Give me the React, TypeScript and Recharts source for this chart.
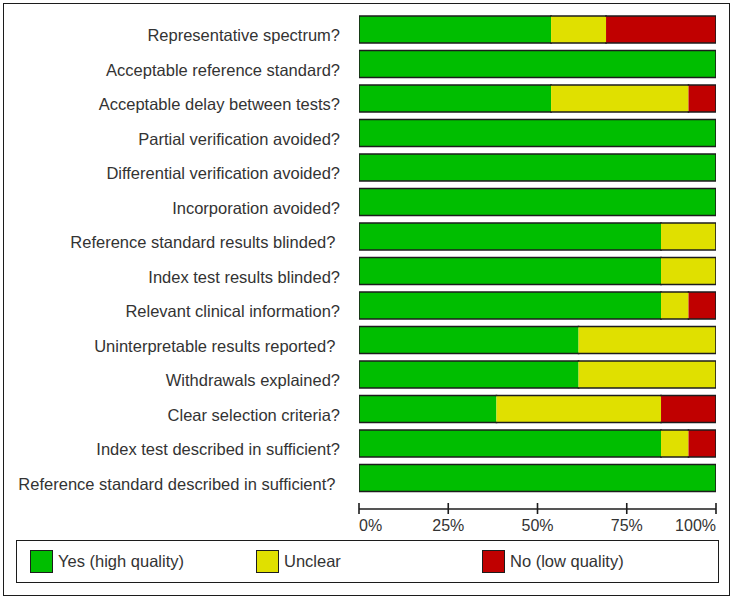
import React from 'react';
import { BarChart, Bar, XAxis, YAxis, Legend } from 'recharts';

const categories = [
  'Representative spectrum?',
  'Acceptable reference standard?',
  'Acceptable delay between tests?',
  'Partial verification avoided?',
  'Differential verification avoided?',
  'Incorporation avoided?',
  'Reference standard results blinded?\u00a0',
  'Index test results blinded?',
  'Relevant clinical information?',
  'Uninterpretable results reported?\u00a0',
  'Withdrawals explained?',
  'Clear selection criteria?',
  'Index test described in sufficient?',
  'Reference standard described in sufficient?\u00a0',
];
const yesValues = [53.8, 100, 53.8, 100, 100, 100, 84.6, 84.6, 84.6, 61.5, 61.5, 38.5, 84.6, 100];
const unclearValues = [15.4, 0, 38.5, 0, 0, 0, 15.4, 15.4, 7.7, 38.5, 38.5, 46.1, 7.7, 0];
const noValues = [30.8, 0, 7.7, 0, 0, 0, 0, 0, 7.7, 0, 0, 15.4, 7.7, 0];
const xTicks = [0, 25, 50, 75, 100];
const xTickLabels = ['0%', '25%', '50%', '75%', '100%'];
const seriesKeys = ['yes', 'unclear', 'no'];
const seriesNames = ['Yes (high quality)', 'Unclear', 'No (low quality)'];
const seriesColors = ['#00BE00', '#E0E000', '#C00000'];

const data = categories.map((name, i) => ({
  name,
  yes: yesValues[i],
  unclear: unclearValues[i],
  no: noValues[i],
}));

const FONT = '"Liberation Sans", Arial, sans-serif';
const EDGE = '#1c1c1c';
const TEXT = '#333333';

function makeShape(key: string) {
  return (props: any) => {
    const { x, y, width, height, fill, payload } = props;
    if (!width || width <= 0) return <g />;
    const left = key === 'yes';
    const right =
      key === 'no' ||
      (key === 'unclear' && payload.no === 0) ||
      (key === 'yes' && payload.unclear === 0 && payload.no === 0);
    const x2 = x + width;
    const y2 = y + height;
    let d = `M${x},${y}H${x2}M${x},${y2}H${x2}`;
    if (left) d += `M${x},${y}V${y2}`;
    if (right) d += `M${x2},${y}V${y2}`;
    return (
      <g>
        <rect x={x} y={y} width={width} height={height} fill={fill} />
        <path d={d} stroke={EDGE} strokeWidth={1.6} fill="none" strokeLinecap="square" />
      </g>
    );
  };
}

const YTick = (props: any) => {
  const { x, y, payload } = props;
  return (
    <text
      x={x}
      y={y}
      dy={12}
      textAnchor="end"
      fontSize={16.5}
      fill={TEXT}
      fontFamily={FONT}
      style={{ whiteSpace: 'pre' }}
    >
      {payload.value}
    </text>
  );
};

const XTick = (props: any) => {
  const { x, y, payload, index } = props;
  const i = xTicks.indexOf(payload.value);
  const anchor = index === 0 ? 'start' : index === xTicks.length - 1 ? 'end' : 'middle';
  return (
    <g>
      <line x1={x} x2={x} y1={y - 6} y2={y + 5} stroke={EDGE} strokeWidth={1.6} />
      <text x={x} y={y + 22} textAnchor={anchor} fontSize={16} fill={TEXT} fontFamily={FONT}>
        {xTickLabels[i]}
      </text>
    </g>
  );
};

const LegendBox = () => (
  <div
    style={{
      boxSizing: 'border-box',
      height: 43,
      border: `1.6px solid ${EDGE}`,
      display: 'flex',
      alignItems: 'center',
      paddingLeft: 13,
      fontFamily: FONT,
      fontSize: 16.5,
      color: TEXT,
      background: '#fff',
    }}
  >
    {seriesNames.map((n, i) => (
      <div key={n} style={{ display: 'flex', alignItems: 'center', width: 226 }}>
        <span
          style={{
            display: 'inline-block',
            boxSizing: 'border-box',
            width: 23,
            height: 23,
            background: seriesColors[i],
            border: `1.2px solid ${EDGE}`,
            marginRight: 5,
          }}
        />
        <span>{n}</span>
      </div>
    ))}
  </div>
);

export default function App() {
  return (
    <div style={{ position: 'absolute', left: 0, top: 0, width: 733, height: 598, background: '#fff' }}>
      <div
        style={{
          position: 'absolute',
          left: 3,
          top: 3,
          width: 727,
          height: 593,
          boxSizing: 'border-box',
          border: `1.6px solid ${EDGE}`,
        }}
      />
      <BarChart
        width={733}
        height={598}
        data={data}
        layout="vertical"
        margin={{ top: 12, right: 17, left: 0, bottom: 15 }}
        barSize={27}
      >
        <XAxis
          type="number"
          domain={[0, 100]}
          allowDataOverflow
          ticks={xTicks}
          height={31}
          axisLine={{ stroke: EDGE, strokeWidth: 1.6 }}
          tickLine={false}
          tickSize={0}
          tickMargin={0}
          tick={<XTick />}
          interval={0}
        />
        <YAxis
          type="category"
          dataKey="name"
          width={359}
          axisLine={false}
          tickLine={false}
          tickSize={0}
          tickMargin={19}
          tick={<YTick />}
          interval={0}
          padding={{ top: 0, bottom: 14 }}
        />
        <Legend
          verticalAlign="bottom"
          content={<LegendBox />}
          wrapperStyle={{ left: 16, bottom: 15, width: 703, height: 43 }}
        />
        {seriesKeys.map((k, i) => (
          <Bar
            key={k}
            dataKey={k}
            name={seriesNames[i]}
            stackId="q"
            fill={seriesColors[i]}
            isAnimationActive={false}
            shape={makeShape(k)}
          />
        ))}
      </BarChart>
    </div>
  );
}
